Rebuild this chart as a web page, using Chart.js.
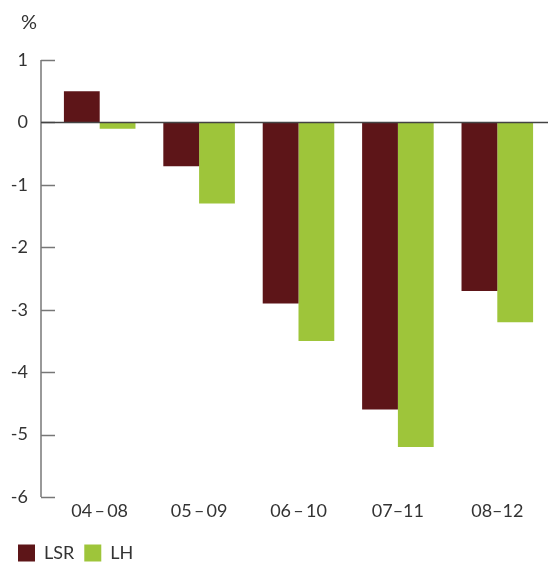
<!DOCTYPE html>
<html>
<head>
<meta charset="utf-8">
<script src="https://cdn.jsdelivr.net/npm/chart.js@4.4.1/dist/chart.umd.min.js"></script>
<style>
html,body{margin:0;padding:0;background:#fff;}
#wrap{width:550px;height:570px;position:relative;}
</style>
</head>
<body>
<div id="wrap"><canvas id="c"></canvas></div>
<script>
const categories = ["04\u2009\u2013\u200908", "05\u2009\u2013\u200909", "06\u2009\u2013\u200910", "07\u201311", "08\u201312"];
const lsrValues = [0.5, -0.7, -2.9, -4.6, -2.7];
const lhValues = [-0.1, -1.3, -3.5, -5.2, -3.2];
const seriesNames = ["LSR", "LH"];
const yMin = -6, yMax = 1;
const unitLabel = "%";

const FONT = "Lato, 'Open Sans', sans-serif";
const TXT = "#333";

const axisPlugin = {
  id: 'axisPlugin',
  afterDatasetsDraw(chart) {
    const ctx = chart.ctx;
    const y = chart.scales.y;
    const ca = chart.chartArea;
    const ax = ca.left - 9;
    ctx.save();
    ctx.strokeStyle = "#777";
    ctx.lineWidth = 1.5;
    ctx.beginPath();
    ctx.moveTo(ax, y.getPixelForValue(yMax));
    ctx.lineTo(ax, y.getPixelForValue(yMin));
    ctx.stroke();
    for (let v = yMin; v <= yMax; v++) {
      const py = Math.round(y.getPixelForValue(v)) + 0.5;
      ctx.beginPath();
      ctx.moveTo(ax, py);
      ctx.lineTo(ax + 14, py);
      ctx.stroke();
    }
    const pz = Math.round(y.getPixelForValue(0)) + 0.5;
    ctx.strokeStyle = "#444";
    ctx.beginPath();
    ctx.moveTo(ax, pz);
    ctx.lineTo(ca.right + 1, pz);
    ctx.stroke();
    ctx.fillStyle = TXT;
    ctx.font = "20px " + FONT;
    ctx.textAlign = "left";
    ctx.textBaseline = "middle";
    ctx.fillText(unitLabel, 21, 23);
    ctx.restore();
  }
};

new Chart(document.getElementById('c'), {
  type: 'bar',
  data: {
    labels: categories,
    datasets: [
      { label: seriesNames[0], data: lsrValues, backgroundColor: "#5d1518", borderWidth: 0 },
      { label: seriesNames[1], data: lhValues, backgroundColor: "#9ec53a", borderWidth: 0 }
    ]
  },
  options: {
    responsive: true,
    maintainAspectRatio: false,
    animation: false,
    layout: { padding: { left: 8, right: 3, top: 60, bottom: -2 } },
    datasets: { bar: { barPercentage: 1, categoryPercentage: 0.72 } },
    scales: {
      x: {
        afterFit(scale) { scale.height = 37; },
        grid: { display: false, drawTicks: false },
        border: { display: false },
        ticks: { color: TXT, font: { family: FONT, size: 18 }, padding: 3, maxRotation: 0 }
      },
      y: {
        min: yMin, max: yMax,
        afterFit(scale) { scale.width = 42; },
        grid: { display: false, drawTicks: false },
        border: { display: false },
        ticks: { stepSize: 1, color: TXT, font: { family: FONT, size: 18 }, padding: 22 }
      }
    },
    plugins: {
      legend: {
        position: 'bottom',
        align: 'start',
        labels: {
          boxWidth: 17, boxHeight: 17, padding: 10,
          color: TXT, font: { family: FONT, size: 18 }
        }
      },
      tooltip: { enabled: false }
    }
  },
  plugins: [axisPlugin]
});
</script>
</body>
</html>
